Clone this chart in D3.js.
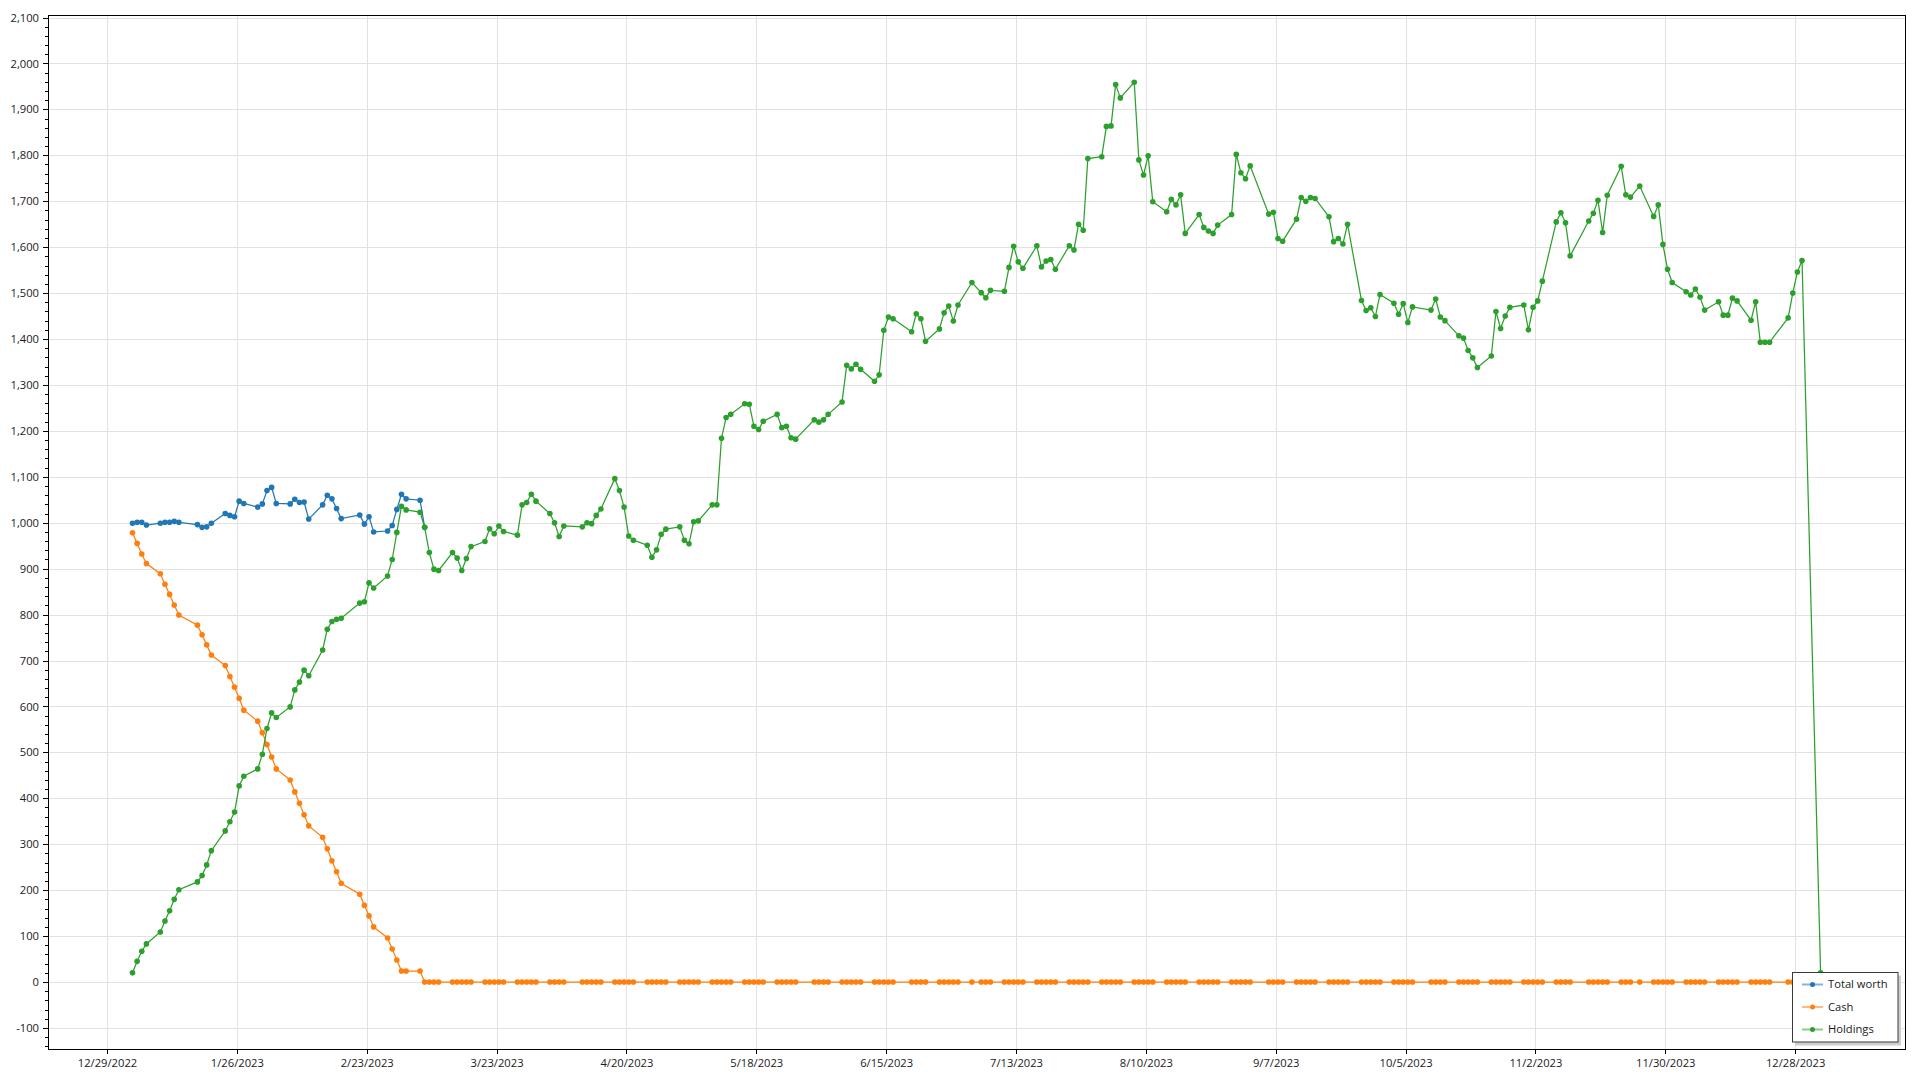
<!DOCTYPE html>
<html><head><meta charset="utf-8">
<script src="https://cdn.jsdelivr.net/npm/d3@7"></script>
<style>
html,body{margin:0;padding:0;background:#fff;}
svg{display:block;font-family:"Open Sans",sans-serif;}
</style>
</head><body>
<svg id="chart" width="1920" height="1080"></svg>
<script>
// ---------------- DATA ----------------
const dates = [
 "2023-01-03","2023-01-04","2023-01-05","2023-01-06","2023-01-09","2023-01-10","2023-01-11","2023-01-12","2023-01-13","2023-01-17","2023-01-18","2023-01-19","2023-01-20","2023-01-23","2023-01-24","2023-01-25","2023-01-26","2023-01-27","2023-01-30","2023-01-31",
 "2023-02-01","2023-02-02","2023-02-03","2023-02-06","2023-02-07","2023-02-08","2023-02-09","2023-02-10","2023-02-13","2023-02-14","2023-02-15","2023-02-16","2023-02-17","2023-02-21","2023-02-22","2023-02-23","2023-02-24","2023-02-27","2023-02-28",
 "2023-03-01","2023-03-02","2023-03-03","2023-03-06","2023-03-07","2023-03-08","2023-03-09","2023-03-10","2023-03-13","2023-03-14","2023-03-15","2023-03-16","2023-03-17","2023-03-20","2023-03-21","2023-03-22","2023-03-23","2023-03-24","2023-03-27","2023-03-28","2023-03-29","2023-03-30","2023-03-31",
 "2023-04-03","2023-04-04","2023-04-05","2023-04-06","2023-04-10","2023-04-11","2023-04-12","2023-04-13","2023-04-14","2023-04-17","2023-04-18","2023-04-19","2023-04-20","2023-04-21","2023-04-24","2023-04-25","2023-04-26","2023-04-27","2023-04-28",
 "2023-05-01","2023-05-02","2023-05-03","2023-05-04","2023-05-05","2023-05-08","2023-05-09","2023-05-10","2023-05-11","2023-05-12","2023-05-15","2023-05-16","2023-05-17","2023-05-18","2023-05-19","2023-05-22","2023-05-23","2023-05-24","2023-05-25","2023-05-26","2023-05-30","2023-05-31",
 "2023-06-01","2023-06-02","2023-06-05","2023-06-06","2023-06-07","2023-06-08","2023-06-09","2023-06-12","2023-06-13","2023-06-14","2023-06-15","2023-06-16","2023-06-20","2023-06-21","2023-06-22","2023-06-23","2023-06-26","2023-06-27","2023-06-28","2023-06-29","2023-06-30",
 "2023-07-03","2023-07-05","2023-07-06","2023-07-07","2023-07-10","2023-07-11","2023-07-12","2023-07-13","2023-07-14","2023-07-17","2023-07-18","2023-07-19","2023-07-20","2023-07-21","2023-07-24","2023-07-25","2023-07-26","2023-07-27","2023-07-28","2023-07-31",
 "2023-08-01","2023-08-02","2023-08-03","2023-08-04","2023-08-07","2023-08-08","2023-08-09","2023-08-10","2023-08-11","2023-08-14","2023-08-15","2023-08-16","2023-08-17","2023-08-18","2023-08-21","2023-08-22","2023-08-23","2023-08-24","2023-08-25","2023-08-28","2023-08-29","2023-08-30","2023-08-31",
 "2023-09-01","2023-09-05","2023-09-06","2023-09-07","2023-09-08","2023-09-11","2023-09-12","2023-09-13","2023-09-14","2023-09-15","2023-09-18","2023-09-19","2023-09-20","2023-09-21","2023-09-22","2023-09-25","2023-09-26","2023-09-27","2023-09-28","2023-09-29",
 "2023-10-02","2023-10-03","2023-10-04","2023-10-05","2023-10-06","2023-10-10","2023-10-11","2023-10-12","2023-10-13","2023-10-16","2023-10-17","2023-10-18","2023-10-19","2023-10-20","2023-10-23","2023-10-24","2023-10-25","2023-10-26","2023-10-27","2023-10-30","2023-10-31",
 "2023-11-01","2023-11-02","2023-11-03","2023-11-06","2023-11-07","2023-11-08","2023-11-09","2023-11-13","2023-11-14","2023-11-15","2023-11-16","2023-11-17","2023-11-20","2023-11-21","2023-11-22","2023-11-24","2023-11-27","2023-11-28","2023-11-29","2023-11-30",
 "2023-12-01","2023-12-04","2023-12-05","2023-12-06","2023-12-07","2023-12-08","2023-12-11","2023-12-12","2023-12-13","2023-12-14","2023-12-15","2023-12-18","2023-12-19","2023-12-20","2023-12-21","2023-12-22","2023-12-26","2023-12-27","2023-12-28","2023-12-29",
 "2024-01-02"
];

const holdings = [
 20,45,67,83,109,133,155,180,201,218,232,255,286,329,349,370,427,448,464,496,
 552,586,576,599,636,653,679,667,723,768,785,790,792,825,828,869,858,884,920,
 979,1036,1028,1023,990,935,899,896,935,923,896,922,948,959,987,976,993,981,973,1039,1044,1062,1047,
 1020,1000,970,993,991,1000,998,1016,1030,1096,1070,1034,971,962,951,925,941,975,986,
 991,962,954,1002,1004,1039,1039,1184,1229,1236,1259,1258,1210,1203,1221,1236,1207,1210,1185,1182,1224,1219,
 1224,1236,1263,1343,1335,1345,1334,1308,1322,1419,1448,1444,1416,1455,1444,1395,1422,1457,1472,1439,1474,
 1523,1501,1490,1506,1504,1556,1602,1568,1554,1603,1557,1570,1573,1552,1603,1594,1650,1637,1793,1797,
 1863,1864,1954,1925,1959,1790,1757,1799,1699,1677,1704,1692,1714,1630,1671,1643,1635,1630,1648,1671,1802,1762,1749,
 1777,1672,1676,1619,1613,1661,1708,1700,1708,1706,1666,1612,1619,1607,1650,1484,1462,1468,1449,1497,
 1478,1454,1477,1436,1470,1463,1487,1448,1440,1407,1402,1375,1359,1338,1363,1460,1423,1450,1469,1474,1420,
 1469,1483,1526,1655,1675,1653,1581,1657,1674,1702,1632,1713,1776,1714,1709,1733,1667,1692,1606,1552,
 1523,1503,1496,1509,1491,1463,1481,1452,1452,1489,1483,1441,1481,1393,1393,1393,1446,1500,1546,1571,
 20
];

const cash = [
 978,955,932,911,889,866,844,821,799,777,756,734,712,689,665,642,618,592,568,543,
 517,490,464,440,414,389,364,340,315,290,264,240,215,191,167,144,120,96,72,
 48,24,24,24,0,0,0,0,0,0,0,0,0,0,0,0,0,0,0,0,0,0,0,
 0,0,0,0,0,0,0,0,0,0,0,0,0,0,0,0,0,0,0,
 0,0,0,0,0,0,0,0,0,0,0,0,0,0,0,0,0,0,0,0,0,0,
 0,0,0,0,0,0,0,0,0,0,0,0,0,0,0,0,0,0,0,0,0,
 0,0,0,0,0,0,0,0,0,0,0,0,0,0,0,0,0,0,0,0,
 0,0,0,0,0,0,0,0,0,0,0,0,0,0,0,0,0,0,0,0,0,0,0,
 0,0,0,0,0,0,0,0,0,0,0,0,0,0,0,0,0,0,0,0,
 0,0,0,0,0,0,0,0,0,0,0,0,0,0,0,0,0,0,0,0,0,
 0,0,0,0,0,0,0,0,0,0,0,0,0,0,0,0,0,0,0,0,
 0,0,0,0,0,0,0,0,0,0,0,0,0,0,0,0,0,0,0,0,
 0
];

// Visible part of "Total worth" (afterwards it coincides with Holdings)
const totalWorth = [
 999,1001,1001,995,999,1001,1001,1003,1001,996,990,991,999,1020,1016,1013,1047,1042,1034,1041,
 1070,1077,1042,1041,1051,1044,1045,1008,1039,1060,1052,1031,1009,1017,997,1013,980,982,994,
 1029,1062,1052,1049,990
];

const seriesNames = ["Total worth", "Cash", "Holdings"];
const seriesColors = ["#1f77b4", "#ff7f0e", "#2ca02c"];

const xTickDates = ["2022-12-29","2023-01-26","2023-02-23","2023-03-23","2023-04-20","2023-05-18",
  "2023-06-15","2023-07-13","2023-08-10","2023-09-07","2023-10-05","2023-11-02","2023-11-30","2023-12-28"];
const yTicks = [-100,0,100,200,300,400,500,600,700,800,900,1000,1100,1200,1300,1400,1500,1600,1700,1800,1900,2000,2100];
const yDomain = [-148, 2105.5];
const xDomain = ["2022-12-16T06:43:00Z", "2024-01-20T16:48:00Z"];

// ---------------- LAYOUT ----------------
const L = 48, R = 1905, T = 15, B = 1050;
const FONT = 11.2, TXT = "#1a1a1a";

const svg = d3.select("#chart");
svg.append("rect").attr("width",1920).attr("height",1080).attr("fill","#fff");

const x = d3.scaleUtc().domain(xDomain.map(s => new Date(s))).range([L, R]);
const y = d3.scaleLinear().domain(yDomain).range([B, T]);
const pDate = s => new Date(s + "T12:00:00Z");
const tDate = s => new Date(s + "T00:00:00Z");

const fmtY = d3.formatLocale({decimal:".", thousands:",", grouping:[3], currency:["$",""], minus:"-"}).format(",");
const fmtX = d3.utcFormat("%-m/%-d/%Y");

// grid
const grid = svg.append("g").attr("stroke","#e2e2e2").attr("stroke-width",1).attr("shape-rendering","crispEdges");
grid.selectAll(".gy").data(yTicks).join("line")
  .attr("x1",L).attr("x2",R).attr("y1",d=>Math.round(y(d))+0.5).attr("y2",d=>Math.round(y(d))+0.5);
grid.selectAll(".gx").data(xTickDates).join("line")
  .attr("y1",T).attr("y2",B).attr("x1",d=>Math.round(x(tDate(d)))+0.5).attr("x2",d=>Math.round(x(tDate(d)))+0.5);

// clip
svg.append("clipPath").attr("id","plotclip").append("rect")
  .attr("x",L).attr("y",T).attr("width",R-L).attr("height",B-T);

const series = [
  dates.slice(0,totalWorth.length).map((d,i)=>({date:pDate(d), v:totalWorth[i]})),
  dates.map((d,i)=>({date:pDate(d), v:cash[i]})),
  dates.map((d,i)=>({date:pDate(d), v:holdings[i]}))
];

const line = d3.line().x(d=>x(d.date)).y(d=>y(d.v));
const plot = svg.append("g").attr("clip-path","url(#plotclip)");
series.forEach((data, si) => {
  const g = plot.append("g");
  g.append("path").datum(data).attr("d",line).attr("fill","none")
    .attr("stroke",seriesColors[si]).attr("stroke-width",1.25);
  g.selectAll("circle").data(data).join("circle")
    .attr("cx",d=>x(d.date)).attr("cy",d=>y(d.v)).attr("r",2.8)
    .attr("fill",seriesColors[si]);
});

// axes
const yAxis = svg.append("g").attr("transform",`translate(${L},0)`)
  .call(d3.axisLeft(y).tickValues(yTicks).tickSize(5).tickPadding(4).tickFormat(fmtY));
const minorY = d3.range(-140, 2101, 20).filter(v => v % 100 !== 0);
const yMinor = svg.append("g").attr("transform",`translate(${L},0)`)
  .call(d3.axisLeft(y).tickValues(minorY).tickSize(3).tickFormat(""));
const xAxis = svg.append("g").attr("transform",`translate(0,${B})`)
  .call(d3.axisBottom(x).tickValues(xTickDates.map(tDate)).tickSize(4).tickPadding(5).tickFormat(fmtX));

[yAxis, yMinor, xAxis].forEach(g => {
  g.select(".domain").remove();
  g.selectAll("line").attr("stroke","#000").attr("shape-rendering","crispEdges");
  g.selectAll("text").attr("font-size",FONT).attr("fill",TXT).attr("font-family","Open Sans, sans-serif");
});

// border
svg.append("rect").attr("x",L+0.5).attr("y",T+0.5).attr("width",R-L-0.5).attr("height",B-T-1)
  .attr("fill","none").attr("stroke","#000").attr("stroke-width",1).attr("shape-rendering","crispEdges");

// legend
const lg = svg.append("g");
lg.append("rect").attr("x",1795).attr("y",975.5).attr("width",106).attr("height",70).attr("fill","#cfcfcf");
lg.append("rect").attr("x",1792.5).attr("y",972.5).attr("width",105.5).attr("height",69.5)
  .attr("fill","#fff").attr("stroke","#3a3a3a").attr("stroke-width",1);
const ly = [984.5, 1007, 1029.5];
seriesNames.forEach((name, i) => {
  lg.append("line").attr("x1",1802).attr("x2",1823).attr("y1",ly[i]).attr("y2",ly[i])
    .attr("stroke",seriesColors[i]).attr("stroke-width",2).attr("stroke-opacity",0.55);
  lg.append("circle").attr("cx",1812.5).attr("cy",ly[i]).attr("r",2.5).attr("fill",seriesColors[i]);
  lg.append("text").attr("x",1828).attr("y",ly[i]).attr("dy","0.35em")
    .attr("font-size",FONT).attr("fill",TXT).text(name);
});
</script>
</body></html>
